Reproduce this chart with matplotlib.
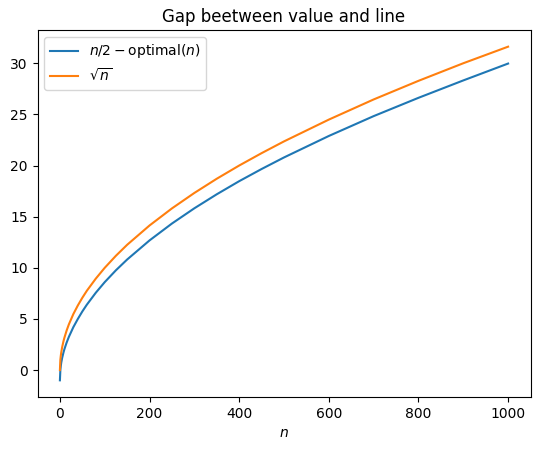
import matplotlib
matplotlib.use("Agg")
import matplotlib.pyplot as plt

n_vals = [0, 1, 2, 3, 5, 8, 10, 15, 20, 30, 40, 50, 60, 80, 100, 125, 150, 200,
          250, 300, 350, 400, 450, 500, 600, 700, 800, 900, 1000]
gap_vals = [-1.0, 0.0, 0.41, 0.73, 1.19, 1.73, 2.04, 2.69, 3.25, 4.20, 5.00, 5.73,
            6.39, 7.56, 8.60, 9.76, 10.81, 12.68, 14.33, 15.82, 17.19, 18.47,
            19.66, 20.79, 22.89, 24.83, 26.62, 28.32, 29.97]
sqrt_vals = [0.0, 1.0, 1.41, 1.73, 2.24, 2.83, 3.16, 3.87, 4.47, 5.48, 6.32, 7.07,
             7.75, 8.94, 10.0, 11.18, 12.25, 14.14, 15.81, 17.32, 18.71, 20.0,
             21.21, 22.36, 24.49, 26.46, 28.28, 30.0, 31.62]

fig = plt.figure(figsize=(5.4, 4.5), dpi=100)
ax = fig.add_axes([37.5 / 540, 53 / 450, 493 / 540, 367 / 450])
ax.plot(n_vals, gap_vals, label=r"$n/2 - \mathrm{optimal}(n)$")
ax.plot(n_vals, sqrt_vals, label=r"$\sqrt{n}$")
ax.set_title("Gap beetween value and line")
ax.set_xlabel("$n$")
ax.legend(loc="upper left")
fig.savefig("out.png", dpi=100)
